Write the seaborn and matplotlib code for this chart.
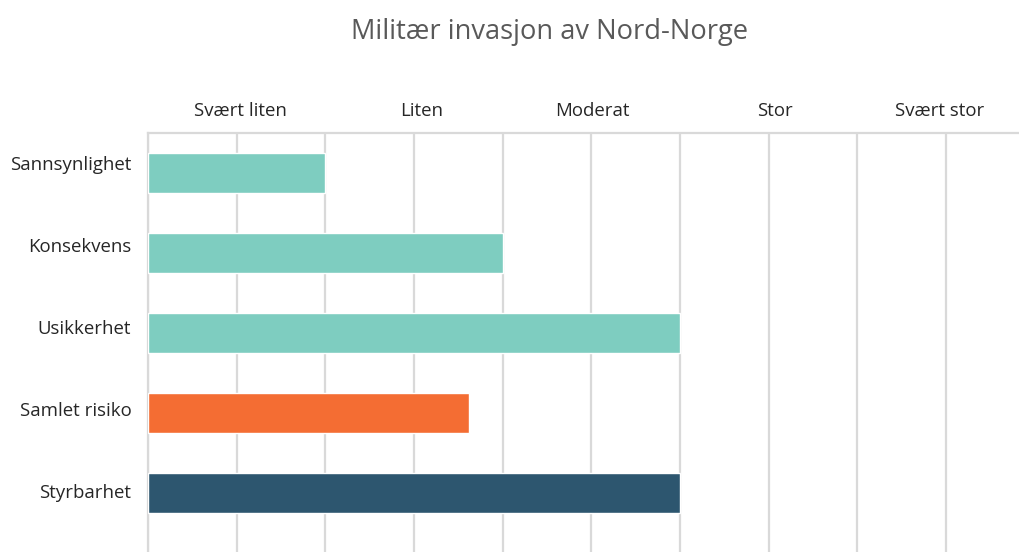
import pandas as pd
import seaborn as sns
from matplotlib import pyplot as plt

# data
data = pd.DataFrame({
    'kategori': ['Sannsynlighet', 'Konsekvens', 'Usikkerhet', 'Samlet risiko', 'Styrbarhet'],
    'verdi': [2, 4, 6, 3.62, 6],
})
farger = ['#7ecdc0', '#7ecdc0', '#7ecdc0', '#f46d33', '#2d566f']
skala = ['Svært liten', 'Liten', 'Moderat', 'Stor', 'Svært stor']

sns.set_style("white")
plt.rcParams['font.family'] = ['Open Sans', 'DejaVu Sans']

fig = plt.figure(figsize=(10.2, 5.52), dpi=100)
ax = fig.add_axes([148/1020, 0, 872/1020, 1 - 133/552])

sns.barplot(data=data, x='verdi', y='kategori', hue='kategori', palette=farger,
            orient='h', width=0.5, saturation=1, legend=False, ax=ax, zorder=3)

# akse
ax.set_xlim(0, 9.834)
ax.set_ylim(4.74, -0.5)
# rutenett på hele tall, etiketter litt forskjøvet som i originalen
ax.set_xticks(range(0, 10))
ax.set_xticklabels([])
ax.set_xticks([1.04, 3.09, 5.01, 7.07, 8.93], minor=True)
ax.set_xticklabels(skala, minor=True)
ax.xaxis.tick_top()
ax.tick_params(axis='x', which='both', length=0, pad=9.5, labelsize=13.4, labelcolor='#262626')
ax.set_yticks([-0.125, 0.9, 1.925, 2.95, 3.975])
ax.set_yticklabels(data['kategori'])
ax.tick_params(axis='y', length=0, pad=12, labelsize=13.4, labelcolor='#262626')
ax.grid(axis='x', which='major', color='#d9d9d9', linewidth=1.6, zorder=0)
ax.set_xlabel('')
ax.set_ylabel('')
for s in ['right', 'bottom']:
    ax.spines[s].set_visible(False)
for s in ['top', 'left']:
    ax.spines[s].set_color('#d9d9d9')
    ax.spines[s].set_linewidth(1.6)

fig.text(550/1020, 1 - 32/552, 'Militær invasjon av Nord-Norge', ha='center', va='center',
         fontsize=19.6, color='#595959')

plt.savefig('out.png', dpi=100)
